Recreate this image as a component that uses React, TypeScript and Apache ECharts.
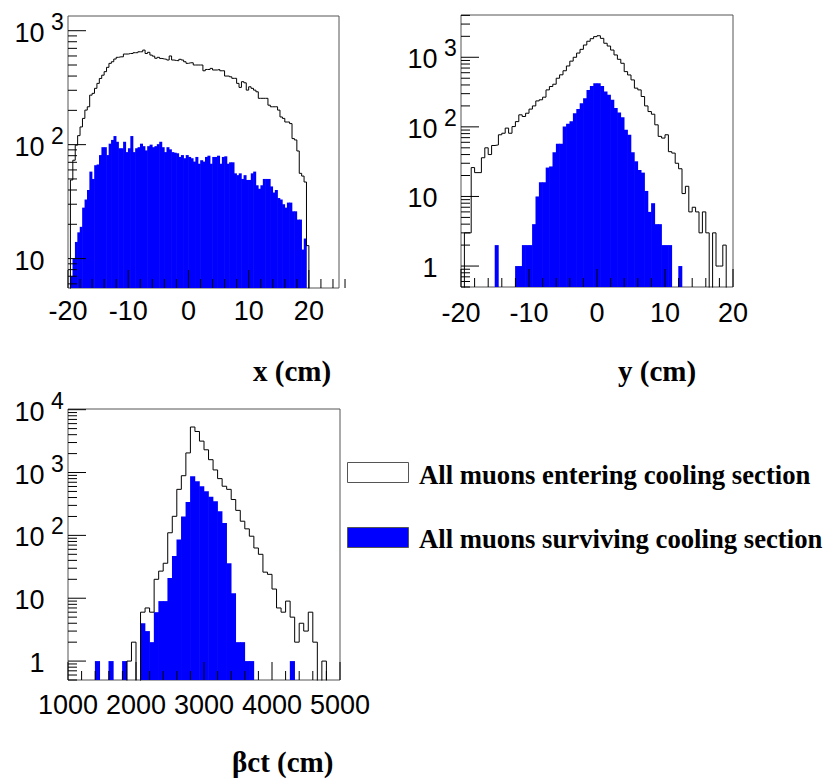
import React, { useEffect, useRef } from 'react';
import * as echarts from 'echarts';

// ---------- Panel 1: x (cm), 100 bins from -20 to 20 ----------
const xEntering = [
  0, 49, 73, 99, 120, 143, 170, 201, 215, 272,
  282, 312, 345, 381, 407, 437, 477, 517, 534, 564,
  584, 590, 590, 624, 624, 631, 631, 641, 641, 653,
  653, 676, 631, 646, 611, 598, 573, 584, 571, 565,
  561, 553, 600, 553, 548, 545, 561, 553, 534, 517,
  523, 523, 500, 500, 500, 500, 445, 457, 457, 467,
  452, 452, 457, 445, 445, 400, 400, 394, 382, 382,
  345, 318, 357, 349, 301, 322, 312, 301, 291, 255,
  255, 255, 255, 222, 215, 215, 215, 201, 175, 170,
  158, 158, 153, 113, 110, 88, 56, 53, 47, 13,
];
const xSurviving = [
  0, 7, 10, 14, 17, 19, 28, 33, 40, 58,
  50, 66, 67, 81, 95, 95, 81, 102, 110, 119,
  106, 93, 93, 106, 86, 93, 119, 86, 93, 95,
  102, 97, 89, 97, 100, 95, 97, 101, 106, 95,
  86, 95, 91, 86, 85, 84, 78, 81, 76, 81,
  78, 76, 71, 78, 68, 73, 71, 78, 80, 68,
  78, 78, 80, 68, 78, 79, 68, 70, 70, 56,
  54, 56, 50, 54, 49, 49, 56, 58, 44, 41,
  44, 50, 50, 50, 43, 38, 40, 34, 33, 30,
  28, 31, 31, 26, 26, 22, 22, 12, 15, 0,
];
const xTickValues = [-20, -10, 0, 10, 20];
const xTickLabels = ['-20', '-10', '0', '10', '20'];
const xDecades = [1, 2, 3];

// ---------- Panel 2: y (cm), 80 bins from -20 to 20 ----------
const yEntering = [
  0, 3, 3, 26, 22, 22, 36, 50, 40, 54,
  55, 77, 81, 96, 81, 101, 119, 149, 141, 157,
  180, 200, 236, 245, 267, 340, 380, 410, 500, 560,
  640, 750, 880, 1000, 1150, 1300, 1500, 1700, 1850, 1980,
  2040, 1870, 1590, 1450, 1270, 1080, 935, 820, 622, 557,
  473, 360, 340, 273, 200, 166, 152, 107, 73, 69,
  77, 44, 42, 30, 25, 11, 14, 6, 7, 6,
  3, 6, 3, 0, 3, 1, 1, 2, 0, 0,
];
const ySurviving = [
  0, 0, 0, 0, 0, 0, 0, 0, 0, 0,
  2, 0, 0, 0, 0, 0, 1, 1, 2, 2,
  2, 4, 10, 16, 16, 26, 27, 43, 57, 57,
  101, 111, 120, 157, 180, 219, 258, 340, 388, 424,
  424, 388, 321, 289, 245, 186, 161, 138, 91, 77,
  43, 32, 24, 22, 12, 6, 8, 4, 4, 2,
  2, 2, 0, 0, 1, 0, 0, 0, 0, 0,
  0, 0, 0, 0, 0, 0, 0, 0, 0, 0,
];
const yTickValues = [-20, -10, 0, 10, 20];
const yTickLabels = ['-20', '-10', '0', '10', '20'];
const yDecades = [0, 1, 2, 3];

// ---------- Panel 3: βct (cm), 60 bins from 1000 to 5000 ----------
const ctEntering = [
  0, 0, 0, 0, 0, 0, 0, 0, 0, 0,
  0, 0, 0, 1, 2, 0, 6, 7, 6, 20,
  27, 36, 110, 201, 540, 890, 2050, 5300, 4500, 3160,
  2300, 1600, 1100, 800, 605, 540, 372, 250, 168, 127,
  97, 63, 50, 26, 24, 14, 7, 6, 9, 5,
  2, 4, 3, 6, 2, 0, 1, 0, 0, 0,
];
const ctSurviving = [
  0, 0, 0, 0, 0, 0, 1, 0, 0, 1,
  0, 0, 1, 0, 0, 0, 4, 3, 2, 6,
  9, 9, 21, 47, 86, 200, 340, 870, 728, 606,
  504, 410, 350, 242, 158, 36, 12, 2, 2, 1,
  1, 0, 0, 0, 0, 0, 0, 0, 0, 1,
  0, 0, 0, 0, 0, 0, 0, 0, 0, 0,
];
const ctTickValues = [1000, 2000, 3000, 4000, 5000];
const ctTickLabels = ['1000', '2000', '3000', '4000', '5000'];
const ctDecades = [0, 1, 2, 3, 4];

const legendLabels = ['All muons entering cooling section', 'All muons surviving cooling section'];
const axisTitles = ['x (cm)', 'y (cm)', 'βct (cm)'];

const SANS = '"Liberation Sans", Arial, Helvetica, sans-serif';
const SERIF = '"Liberation Serif", "Times New Roman", serif';
const BLUE = '#0000ff';

type Panel = {
  grid: { left: number; top: number; width: number; height: number };
  xMin: number; xMax: number; yMin: number; yMax: number;
  binLo: number; binHi: number;
  entering: number[]; surviving: number[];
  xMajor: number[]; xLabels: string[]; xMinorStep: number;
  decades: number[]; labelDy: number;
};

const panels: Panel[] = [
  {
    grid: { left: 68, top: 16, width: 271, height: 272 },
    xMin: -20, xMax: 25, yMin: 5.52, yMax: 1346, binLo: -20, binHi: 20,
    entering: xEntering, surviving: xSurviving,
    xMajor: xTickValues, xLabels: xTickLabels, xMinorStep: 2, decades: xDecades, labelDy: 23,
  },
  {
    grid: { left: 461, top: 15, width: 272, height: 272 },
    xMin: -20, xMax: 20, yMin: 0.5, yMax: 4050, binLo: -20, binHi: 20,
    entering: yEntering, surviving: ySurviving,
    xMajor: yTickValues, xLabels: yTickLabels, xMinorStep: 2, decades: yDecades, labelDy: 25.5,
  },
  {
    grid: { left: 68, top: 409, width: 272, height: 271 },
    xMin: 1000, xMax: 5000, yMin: 0.5, yMax: 10250, binLo: 1000, binHi: 5000,
    entering: ctEntering, surviving: ctSurviving,
    xMajor: ctTickValues, xLabels: ctTickLabels, xMinorStep: 200, decades: ctDecades, labelDy: 25,
  },
];

function buildSeries(p: Panel, idx: number): any[] {
  const n = p.entering.length;
  const w = (p.binHi - p.binLo) / n;
  const floor = p.yMin / 1000;
  const out: any[] = [];

  // filled histogram (surviving)
  const blueData: number[][] = [];
  p.surviving.forEach((c, i) => {
    if (c > 0) blueData.push([p.binLo + i * w, c, p.binLo + (i + 1) * w]);
  });
  out.push({
    type: 'custom', xAxisIndex: idx, yAxisIndex: idx, clip: true, z: 2, silent: true,
    encode: { x: 0, y: 1 },
    data: blueData,
    renderItem: (_params: any, api: any) => {
      const a = api.coord([api.value(0), p.yMin]);
      const b = api.coord([api.value(2), api.value(1)]);
      return {
        type: 'rect',
        shape: { x: a[0] - 0.3, y: b[1], width: b[0] - a[0] + 0.6, height: a[1] - b[1] + 1 },
        style: { fill: BLUE },
      };
    },
  });

  // outline histogram (entering)
  const pts: number[][] = [[p.binLo, floor]];
  p.entering.forEach((c, i) => pts.push([p.binLo + i * w, c > 0 ? c : floor]));
  pts.push([p.binHi, p.entering[n - 1] > 0 ? p.entering[n - 1] : floor]);
  pts.push([p.binHi, floor]);
  out.push({
    type: 'line', xAxisIndex: idx, yAxisIndex: idx, data: pts, step: 'end',
    symbol: 'none', showSymbol: false, clip: true, z: 3, silent: true,
    lineStyle: { color: '#000', width: 1 },
  });

  // ticks
  const ticks: number[][] = [];
  p.xMajor.forEach((v) => ticks.push([v, p.yMin, 2]));
  const steps = Math.round((p.xMax - p.xMin) / p.xMinorStep);
  for (let i = 0; i <= steps; i++) {
    const v = p.xMin + i * p.xMinorStep;
    if (!p.xMajor.some((m) => Math.abs(m - v) < 1e-9)) ticks.push([v, p.yMin, 3]);
  }
  const dLo = Math.floor(Math.log10(p.yMin));
  const dHi = Math.ceil(Math.log10(p.yMax));
  for (let d = dLo; d <= dHi; d++) {
    const base = Math.pow(10, d);
    if (base >= p.yMin && base <= p.yMax) ticks.push([p.xMin, base, 0]);
    for (let m = 2; m <= 9; m++) {
      const v = m * base;
      if (v >= p.yMin && v <= p.yMax) ticks.push([p.xMin, v, 1]);
    }
  }
  out.push({
    type: 'custom', xAxisIndex: idx, yAxisIndex: idx, clip: false, z: 5, silent: true,
    encode: { x: 0, y: 1 },
    data: ticks,
    renderItem: (_params: any, api: any) => {
      const kind = api.value(2);
      const pt = api.coord([api.value(0), api.value(1)]);
      if (kind <= 1) {
        const len = kind === 0 ? 18 : 9;
        return { type: 'line', shape: { x1: pt[0], y1: pt[1], x2: pt[0] + len, y2: pt[1] }, style: { stroke: '#000', lineWidth: 1 } };
      }
      const len = kind === 2 ? 18 : 9;
      return { type: 'line', shape: { x1: pt[0], y1: pt[1], x2: pt[0], y2: pt[1] - len }, style: { stroke: '#000', lineWidth: 1 } };
    },
  });

  // labels
  const labels: number[][] = [];
  p.xMajor.forEach((v, i) => labels.push([v, p.yMin, 1, i]));
  p.decades.forEach((e, i) => labels.push([p.xMin, Math.pow(10, e), 0, i]));
  out.push({
    type: 'custom', xAxisIndex: idx, yAxisIndex: idx, clip: false, z: 6, silent: true,
    encode: { x: 0, y: 1 },
    data: labels,
    renderItem: (_params: any, api: any) => {
      const kind = api.value(2);
      const li = api.value(3);
      const pt = api.coord([api.value(0), api.value(1)]);
      if (kind === 1) {
        return {
          type: 'text', x: pt[0], y: pt[1] + p.labelDy,
          style: { text: p.xLabels[li], font: `27px ${SANS}`, fill: '#000', align: 'center', verticalAlign: 'middle' },
        };
      }
      const e = p.decades[li];
      const children: any[] = [{
        type: 'text', x: pt[0] - 23.5, y: pt[1] + 2,
        style: { text: e === 0 ? '1' : '10', font: `27px ${SANS}`, fill: '#000', align: 'right', verticalAlign: 'middle' },
      }];
      if (e >= 2) {
        children.push({
          type: 'text', x: pt[0] - 17, y: pt[1] - 9,
          style: { text: String(e), font: `23px ${SANS}`, fill: '#000', align: 'left', verticalAlign: 'middle' },
        });
      }
      return { type: 'group', children };
    },
  });
  return out;
}

export default function App() {
  const ref = useRef<HTMLDivElement>(null);
  useEffect(() => {
    if (!ref.current) return;
    const chart = echarts.init(ref.current, undefined, { renderer: 'svg' });
    const series: any[] = [];
    panels.forEach((p, i) => series.push(...buildSeries(p, i)));
    const option: any = {
      animation: false,
      backgroundColor: '#ffffff',
      grid: panels.map((p) => ({
        ...p.grid, show: true, borderColor: '#555', borderWidth: 1, backgroundColor: 'transparent', containLabel: false,
      })),
      xAxis: panels.map((p, i) => ({
        type: 'value', gridIndex: i, min: p.xMin, max: p.xMax, show: false,
        splitLine: { show: false },
      })),
      yAxis: panels.map((p, i) => ({
        type: 'log', logBase: 10, gridIndex: i, min: p.yMin, max: p.yMax, show: false,
        splitLine: { show: false },
      })),
      series,
      graphic: [
        { type: 'text', x: 253, y: 371, style: { text: axisTitles[0], font: `bold 29px ${SERIF}`, fill: '#000', align: 'left', verticalAlign: 'middle' } },
        { type: 'text', x: 618, y: 371, style: { text: axisTitles[1], font: `bold 29px ${SERIF}`, fill: '#000', align: 'left', verticalAlign: 'middle' } },
        { type: 'text', x: 232, y: 762, style: { text: axisTitles[2], font: `bold 29px ${SERIF}`, fill: '#000', align: 'left', verticalAlign: 'middle' } },
        { type: 'rect', shape: { x: 347.5, y: 462.5, width: 61, height: 20 }, style: { fill: '#fff', stroke: '#555', lineWidth: 1 } },
        { type: 'rect', shape: { x: 347.5, y: 527.5, width: 61, height: 20 }, style: { fill: BLUE, stroke: '#555', lineWidth: 1 } },
        { type: 'text', x: 419, y: 474.5, style: { text: legendLabels[0], font: `bold 26.7px ${SERIF}`, fill: '#000', align: 'left', verticalAlign: 'middle' } },
        { type: 'text', x: 419, y: 539, style: { text: legendLabels[1], font: `bold 26.7px ${SERIF}`, fill: '#000', align: 'left', verticalAlign: 'middle' } },
      ],
    };
    chart.setOption(option);
    return () => chart.dispose();
  }, []);
  return <div ref={ref} style={{ position: 'absolute', left: 0, top: 0, width: 828, height: 784 }} />;
}
